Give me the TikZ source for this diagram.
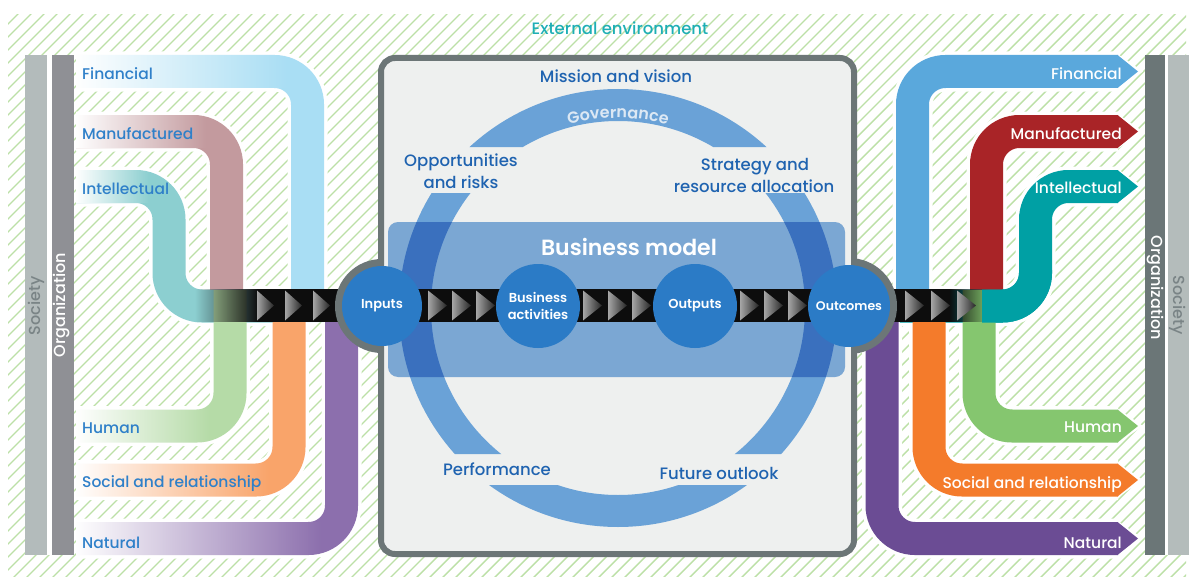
\documentclass[tikz,border=0pt]{standalone}
\usepackage{fontspec}
\setmainfont{Poppins}[UprightFont=* Medium, BoldFont=* SemiBold]
\newcommand\heavyfont{\bfseries}
\usetikzlibrary{fadings,decorations.text}
\definecolor{hatchc}{HTML}{BCE0A6}
\definecolor{socL}{HTML}{B3BBBB}
\definecolor{orgL}{HTML}{8F9095}
\definecolor{orgR}{HTML}{6B7677}
\definecolor{socR}{HTML}{B4BCBB}
\definecolor{soctext}{HTML}{7A8486}
\definecolor{finL}{HTML}{A9DEF4}
\definecolor{manL}{HTML}{C39A9E}
\definecolor{intL}{HTML}{8CCFD0}
\definecolor{humL}{HTML}{B5DBA7}
\definecolor{socflL}{HTML}{F9A46A}
\definecolor{natL}{HTML}{8C6FAD}
\definecolor{finR}{HTML}{5AA8DC}
\definecolor{manR}{HTML}{A92427}
\definecolor{intR}{HTML}{00A0A4}
\definecolor{humR}{HTML}{85C66F}
\definecolor{socflR}{HTML}{F47B2B}
\definecolor{natR}{HTML}{6B4C94}
\definecolor{labelblue}{HTML}{2F80C9}
\definecolor{darkblue}{HTML}{1F63B0}
\definecolor{boxgray}{HTML}{6C7677}
\definecolor{boxfill}{HTML}{EEF0EF}
\definecolor{ringc}{HTML}{6AA2D7}
\definecolor{ringdark}{HTML}{3A70BE}
\definecolor{bmc}{HTML}{7BA7D3}
\definecolor{circc}{HTML}{2B7BC6}
\definecolor{govc}{HTML}{DCE8F4}
\definecolor{extc}{HTML}{1EAFB5}
\tikzfading[name=fadeout, left color=transparent!0, right color=transparent!100]
\tikzfading[name=fadein, left color=transparent!100, right color=transparent!0]
\newcommand\fsz[1]{\fontsize{#1}{#1}\selectfont}
\tikzset{
  lbl/.style={inner sep=0, anchor=base west, text=labelblue, font=\fsz{15.5}},
  rlbl/.style={inner sep=0, anchor=base east, text=white, font=\fsz{15.5}},
  clbl/.style={inner sep=0, anchor=base, text=darkblue, font=\fsz{16.5}},
  flowhalo/.style={white, line width=40pt, rounded corners=33pt},
  flowband/.style={line width=33pt, rounded corners=33pt},
  circ/.style={circle, fill=circc, inner sep=0, text=white, align=center, font=\heavyfont\fontsize{13}{17}\selectfont},
  tri/.style={left color=black!35, right color=black!85},
  barfill/.style={fill=black!95},
}
\begin{document}
\begin{tikzpicture}[x=1pt,y=-1pt]
\useasboundingbox (0,0) rectangle (1189,578);
\fill[white] (0,0) rectangle (1189,578);
% hatched environment
\begin{scope}
\clip (8,15) rectangle (1186,576);
\foreach \k in {-585,-572,...,1195} \draw[hatchc, line width=1.4pt] (\k,578) -- ++(578,-578);
\end{scope}
% society / organization bars
\fill[white] (47,55) rectangle (52,555);
\fill[socL] (25,55) rectangle (47,555);
\fill[orgL] (52,55) rectangle (74,555);
\fill[white] (1165,55) rectangle (1168,555);
\fill[orgR] (1145,55) rectangle (1165,555);
\fill[socR] (1168,55) rectangle (1189,555);
\node[rotate=90, inner sep=0, text=soctext, font=\fsz{16}] (socLt) at (36,306) {Society};
\node[rotate=90, inner sep=0, text=white, font=\fsz{16}] (orgLt) at (62,305) {Organization};
\node[rotate=-90, inner sep=0, text=white, font=\fsz{16}] (orgRt) at (1155,288) {Organization};
\node[rotate=-90, inner sep=0, text=soctext, font=\fsz{16}] (socRt) at (1178,305) {Society};
% halos
\draw[flowhalo] (307.5,322) -- (307.5,71.5) -- (76,71.5);
\draw[flowhalo] (226.5,322) -- (226.5,131.5) -- (76,131.5);
\draw[flowhalo] (76,186.5) -- (169,186.5) -- (169,306) -- (300,306);
\draw[flowhalo] (76,426) -- (230,426) -- (230,290);
\draw[flowhalo] (76,480) -- (289,480) -- (289,290);
\draw[flowhalo] (76,538.5) -- (341.5,538.5) -- (341.5,318);
\draw[flowhalo] (912.5,322) -- (912.5,71.5) -- (1118,71.5);
\draw[flowhalo] (986.5,322) -- (986.5,131.5) -- (1118,131.5);
\draw[flowhalo] (900,306) -- (1035.5,306) -- (1035.5,186.5) -- (1118,186.5);
\draw[flowhalo] (979,290) -- (979,426) -- (1118,426);
\draw[flowhalo] (929,290) -- (929,480) -- (1118,480);
\draw[flowhalo] (882,300) -- (882,538.5) -- (1118,538.5);
\foreach \y in {71.5,131.5,186.5,426,480,538.5}
  \fill[white] (1114,{\y-20}) -- (1143,\y) -- (1114,{\y+20}) -- cycle;
% left (input) capitals
\draw[flowband, finL] (307.5,322) -- (307.5,71.5) -- (76,71.5);
\draw[flowband, manL] (226.5,322) -- (226.5,131.5) -- (76,131.5);
\draw[flowband, intL] (76,186.5) -- (169,186.5) -- (169,306) -- (300,306);
\draw[flowband, humL] (76,426) -- (230,426) -- (230,290);
\draw[flowband, socflL] (76,480) -- (289,480) -- (289,290);
\draw[flowband, natL] (76,538.5) -- (341.5,538.5) -- (341.5,318);
\foreach \y/\vx in {71.5/307.5,131.5/226.5,186.5/169,426/230,480/289,538.5/341.5}
  \fill[white, path fading=fadeout] (76,{\y-17}) rectangle ({\vx-20},{\y+17});
% right (outcome) capitals
\draw[flowband, finR] (912.5,322) -- (912.5,71.5) -- (1118,71.5);
\draw[flowband, manR] (986.5,322) -- (986.5,131.5) -- (1118,131.5);
\draw[flowband, intR] (900,306) -- (1035.5,306) -- (1035.5,186.5) -- (1118,186.5);
\draw[flowband, humR] (979,290) -- (979,426) -- (1118,426);
\draw[flowband, socflR] (929,290) -- (929,480) -- (1118,480);
\draw[flowband, natR] (882,300) -- (882,538.5) -- (1118,538.5);
\foreach \y/\c in {71.5/finR,131.5/manR,186.5/intR,426/humR,480/socflR,538.5/natR}
  \fill[\c] (1117.5,{\y-16.5}) -- (1138,\y) -- (1117.5,{\y+16.5}) -- cycle;
% outer bar pieces
\fill[black!95, path fading=fadein] (195,289) rectangle (258,322);
\fill[barfill] (257,289) rectangle (382,322);
\fill[barfill] (849,289) rectangle (950,322);
\fill[black!95, path fading=fadeout] (949,289) rectangle (990,322);
% intellectual outcome passes over the bar end
\begin{scope}
\clip (982,270) rectangle (1060,330);
\draw[flowband, intR] (900,306) -- (1035.5,306) -- (1035.5,186.5) -- (1118,186.5);
\end{scope}
\fill[boxgray] (382,306) circle[radius=47];
\fill[boxgray] (849,306) circle[radius=48];
% central box
\draw[boxgray, line width=6pt, fill=boxfill, rounded corners=14pt] (381,58) rectangle (854,554);
% ring
\begin{scope}
\clip (0,0) rectangle (1189,147) (0,193) rectangle (1189,454) (0,485) rectangle (1189,578);
\fill[ringc, even odd rule] (618,308) circle[radius=219] (618,308) circle[radius=187];
\end{scope}
\fill[bmc, rounded corners=10pt] (388,222) rectangle (845,377);
\begin{scope}
\clip[rounded corners=10pt] (388,222) rectangle (845,377);
\fill[ringdark, even odd rule] (618,308) circle[radius=219] (618,308) circle[radius=187];
\end{scope}
\path[decorate, decoration={text along path, text={|\heavyfont\fsz{16}|Governance}, text align=center, text color=govc}]
  (618,308) ++(-125:190) arc[start angle=-125, end angle=-55, radius=190];
% central bar
\fill[barfill] (382,289) rectangle (849,322);
\foreach \x in {257,285,313}
  \shade[tri] (\x,290.5) -- ({\x+17},305.5) -- (\x,320.5) -- cycle;
\foreach \x in {428,452,476,583,608,632,740,764,788,905,931,957}
  \shade[tri] (\x,290.5) -- ({\x+19},305.5) -- (\x,320.5) -- cycle;
% circles
\node[circ, minimum size=80pt] (inputs) at (382,306) {Inputs};
\node[circ, minimum size=84pt] (bact) at (538,306) {Business\\activities};
\node[circ, minimum size=84pt] (outputs) at (695,306) {Outputs};
\node[circ, minimum size=82pt, font=\heavyfont\fontsize{12.5}{17}\selectfont] (outcomes) at (849,306) {Outcomes};
% central labels
\node[inner sep=0, anchor=base, text=white, font=\heavyfont\fsz{22}] (bm) at (629,255) {Business model};
\node[clbl] (mission) at (616,83) {Mission and vision};
\node[clbl] (opp1) at (461,166) {Opportunities};
\node[clbl] (opp2) at (461,188) {and risks};
\node[clbl] (str1) at (755,170) {Strategy and};
\node[clbl] (str2) at (754,192) {resource allocation};
\node[clbl] (perf) at (497,475) {Performance};
\node[clbl] (fut) at (719,479) {Future outlook};
\node[inner sep=0, anchor=base, text=extc, font=\fsz{16.5}] (ext) at (620,35) {External environment};
% left labels
\node[lbl] (lfin) at (82,79) {Financial};
\node[lbl] (lman) at (82,139) {Manufactured};
\node[lbl] (lint) at (82,194.5) {Intellectual};
\node[lbl] (lhum) at (82,433) {Human};
\node[lbl] (lsoc) at (82,487.5) {Social and relationship};
\node[lbl] (lnat) at (82,548) {Natural};
% right labels
\node[rlbl] (rfin) at (1122,80) {Financial};
\node[rlbl] (rman) at (1122,139) {Manufactured};
\node[rlbl] (rint) at (1122,193.5) {Intellectual};
\node[rlbl] (rhum) at (1122,432) {Human};
\node[rlbl] (rsoc) at (1122,488) {Social and relationship};
\node[rlbl] (rnat) at (1122,548) {Natural};
\end{tikzpicture}
\end{document}
